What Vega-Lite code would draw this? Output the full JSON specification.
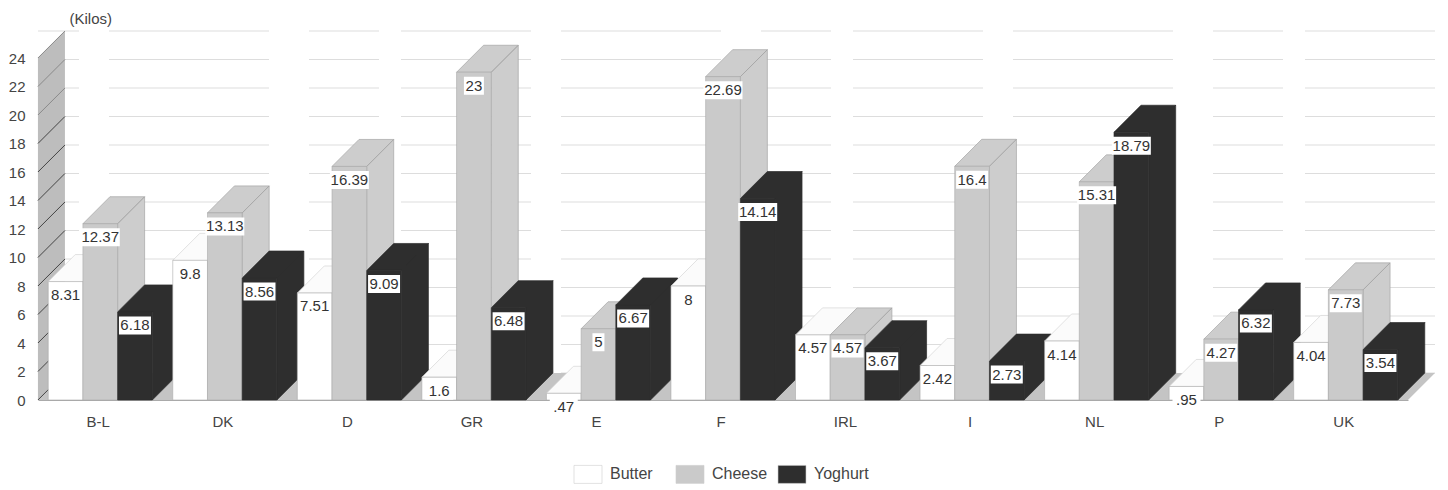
{
  "$schema": "https://vega.github.io/schema/vega-lite/v6.json",
  "width": 1370,
  "height": 342,
  "autosize": "none",
  "padding": {"left": 38, "top": 58, "right": 40, "bottom": 90},
  "background": "#ffffff",
  "config": {
    "font": "Liberation Sans",
    "view": {"stroke": null},
    "text": {"font": "Liberation Sans"}
  },
  "datasets": {
    "ticks": [
      {"tick": 0}, {"tick": 2}, {"tick": 4}, {"tick": 6}, {"tick": 8}, {"tick": 10}, {"tick": 12},
      {"tick": 14}, {"tick": 16}, {"tick": 18}, {"tick": 20}, {"tick": 22}, {"tick": 24}
    ],
    "kilos": [
      {"Country": "B-L", "Product": "Butter", "value": 8.31},
      {"Country": "B-L", "Product": "Cheese", "value": 12.37},
      {"Country": "B-L", "Product": "Yoghurt", "value": 6.18},
      {"Country": "DK", "Product": "Butter", "value": 9.8},
      {"Country": "DK", "Product": "Cheese", "value": 13.13},
      {"Country": "DK", "Product": "Yoghurt", "value": 8.56},
      {"Country": "D", "Product": "Butter", "value": 7.51},
      {"Country": "D", "Product": "Cheese", "value": 16.39},
      {"Country": "D", "Product": "Yoghurt", "value": 9.09},
      {"Country": "GR", "Product": "Butter", "value": 1.6},
      {"Country": "GR", "Product": "Cheese", "value": 23},
      {"Country": "GR", "Product": "Yoghurt", "value": 6.48},
      {"Country": "E", "Product": "Butter", "value": 0.47},
      {"Country": "E", "Product": "Cheese", "value": 5},
      {"Country": "E", "Product": "Yoghurt", "value": 6.67},
      {"Country": "F", "Product": "Butter", "value": 8},
      {"Country": "F", "Product": "Cheese", "value": 22.69},
      {"Country": "F", "Product": "Yoghurt", "value": 14.14},
      {"Country": "IRL", "Product": "Butter", "value": 4.57},
      {"Country": "IRL", "Product": "Cheese", "value": 4.57},
      {"Country": "IRL", "Product": "Yoghurt", "value": 3.67},
      {"Country": "I", "Product": "Butter", "value": 2.42},
      {"Country": "I", "Product": "Cheese", "value": 16.4},
      {"Country": "I", "Product": "Yoghurt", "value": 2.73},
      {"Country": "NL", "Product": "Butter", "value": 4.14},
      {"Country": "NL", "Product": "Cheese", "value": 15.31},
      {"Country": "NL", "Product": "Yoghurt", "value": 18.79},
      {"Country": "P", "Product": "Butter", "value": 0.95},
      {"Country": "P", "Product": "Cheese", "value": 4.27},
      {"Country": "P", "Product": "Yoghurt", "value": 6.32},
      {"Country": "UK", "Product": "Butter", "value": 4.04},
      {"Country": "UK", "Product": "Cheese", "value": 7.73},
      {"Country": "UK", "Product": "Yoghurt", "value": 3.54}
    ]
  },
  "data": {"name": "kilos"},
  "transform": [
    {"calculate": "replace('' + datum.value, regexp('^0'), '')", "as": "label"},
    {"calculate": "length(datum.label)", "as": "chars"},
    {"calculate": "'M-17.35,0 L9.65,-27 L44.35,-27 L17.35,0 Z M17.35,0 L44.35,-27 V' + (14.25 * datum.value - 27) + ' L17.35,' + (14.25 * datum.value) + ' Z'", "as": "depthFaces"}
  ],
  "encoding": {
    "x": {
      "field": "Country",
      "type": "nominal",
      "sort": null,
      "scale": {
        "type": "band",
        "domain": ["B-L", "DK", "D", "GR", "E", "F", "IRL", "I", "NL", "P", "UK"],
        "paddingInner": 0,
        "paddingOuter": 0
      },
      "axis": {
        "title": null,
        "labelAngle": 0,
        "labelFontSize": 15,
        "labelColor": "#444444",
        "labelPadding": 14,
        "labelOffset": -2,
        "ticks": false,
        "domainColor": "#aaaaaa",
        "grid": false
      }
    },
    "xOffset": {
      "field": "Product",
      "type": "nominal",
      "scale": {
        "domain": ["Butter", "Cheese", "Yoghurt"],
        "paddingInner": 0,
        "paddingOuter": 0.295
      }
    },
    "y": {
      "field": "value",
      "type": "quantitative",
      "scale": {"domain": [0, 24], "nice": false},
      "axis": {
        "title": "(Kilos)",
        "titleAngle": 0,
        "titleAlign": "left",
        "titleBaseline": "middle",
        "titleX": 31,
        "titleY": -40,
        "titleFontSize": 15,
        "titleFontWeight": "normal",
        "titleColor": "#444444",
        "values": [0, 2, 4, 6, 8, 10, 12, 14, 16, 18, 20, 22, 24],
        "labelFontSize": 15,
        "labelColor": "#444444",
        "labelPadding": 13,
        "ticks": false,
        "domain": false,
        "grid": false
      }
    }
  },
  "layer": [
    {
      "data": {"name": "ticks"},
      "mark": {
        "type": "rule",
        "stroke": "#dddddd",
        "strokeWidth": 1,
        "strokeDash": [130, 22, 70, 40, 160, 30],
        "xOffset": 27,
        "x2Offset": 27,
        "yOffset": -27
      },
      "encoding": {
        "x": null,
        "xOffset": null,
        "y": {"field": "tick", "type": "quantitative"}
      }
    },
    {
      "transform": [{"filter": "datum.Country === 'B-L' && datum.Product === 'Butter'"}],
      "encoding": {"y": {"datum": 0}},
      "layer": [
        {
          "mark": {"type": "point", "filled": true, "opacity": 1, "size": 4, "fill": "#bdbdbd", "stroke": null,
            "shape": "M-27.65,0 V-342 L-0.65,-369 V-27 Z"}
        },
        {
          "mark": {"type": "point", "filled": true, "opacity": 1, "size": 4, "fill": "#c4c4c4", "stroke": null,
            "shape": "M-27.65,0 L-0.65,-27 L1369.35,-27 L1342.35,0 Z"}
        }
      ]
    },
    {
      "data": {"name": "ticks"},
      "mark": {"type": "point", "filled": false, "opacity": 1, "size": 4, "strokeWidth": 1,
        "shape": "M-27.65,0 L-0.65,-27"},
      "encoding": {
        "x": {"datum": "B-L"},
        "xOffset": {"datum": "Butter"},
        "y": {"field": "tick", "type": "quantitative"},
        "stroke": {"condition": {"test": "datum.tick >= 20", "value": "#8a8a8a"}, "value": "#444444"}
      }
    },
    {
      "mark": {"type": "point", "filled": true, "opacity": 1, "size": 4, "strokeWidth": 0.7},
      "encoding": {
        "shape": {"field": "depthFaces", "type": "nominal", "scale": null, "legend": null},
        "fill": {
          "condition": [
            {"test": "datum.Product === 'Butter'", "value": "#fbfbfb"},
            {"test": "datum.Product === 'Cheese'", "value": "#cdcdcd"}
          ],
          "value": "#2e2e2e"
        },
        "stroke": {
          "condition": [
            {"test": "datum.Product === 'Butter'", "value": "#d5d5d5"},
            {"test": "datum.Product === 'Cheese'", "value": "#a5a5a5"}
          ],
          "value": "#2e2e2e"
        }
      }
    },
    {
      "mark": {"type": "bar", "strokeWidth": 0.6},
      "encoding": {
        "color": {
          "field": "Product",
          "type": "nominal",
          "scale": {"domain": ["Butter", "Cheese", "Yoghurt"], "range": ["#ffffff", "#cacaca", "#2e2e2e"]},
          "legend": {
            "title": null,
            "orient": "none",
            "direction": "horizontal",
            "legendX": 542,
            "legendY": 408,
            "padding": 0,
            "symbolType": "M-14,-9 H14 V9 H-14 Z",
            "symbolSize": 4,
            "symbolStrokeColor": "#cccccc",
            "symbolStrokeWidth": 0.6,
            "labelFontSize": 16,
            "labelColor": "#444444",
            "labelOffset": 14,
            "columnPadding": 8,
            "gridAlign": "all"
          }
        },
        "stroke": {
          "condition": {"test": "datum.Product === 'Yoghurt'", "value": "#2e2e2e"},
          "value": "#aaaaaa"
        }
      }
    },
    {
      "mark": {"type": "point", "filled": true, "opacity": 1, "size": 4, "fill": "#ffffff", "stroke": null},
      "encoding": {
        "shape": {
          "field": "chars",
          "type": "ordinal",
          "legend": null,
          "scale": {
            "domain": [1, 2, 3, 4, 5],
            "range": [
              "M-6,4.5 H6 V22.5 H-6 Z",
              "M-10,4.5 H10 V22.5 H-10 Z",
              "M-14,4.5 H14 V22.5 H-14 Z",
              "M-16,4.5 H16 V22.5 H-16 Z",
              "M-19.5,4.5 H19.5 V22.5 H-19.5 Z"
            ]
          }
        }
      }
    },
    {
      "mark": {"type": "text", "fontSize": 15, "fill": "#333333", "dy": 13.5, "baseline": "middle", "align": "center"},
      "encoding": {"text": {"field": "label"}}
    }
  ]
}
